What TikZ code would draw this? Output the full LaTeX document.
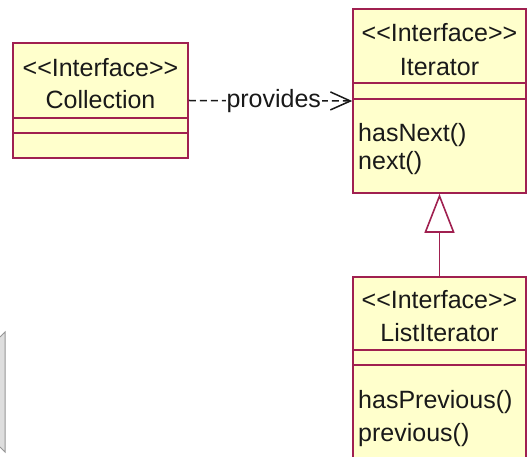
\documentclass[tikz,border=0pt]{standalone}
\usepackage{fontspec}
\setmainfont[Ligatures=NoCommon]{Liberation Sans}
\usetikzlibrary{arrows.meta}
\definecolor{umlline}{RGB}{160,32,80}
\definecolor{umlfill}{RGB}{255,255,204}
\definecolor{edgegrey}{RGB}{150,150,150}
\definecolor{edgefill}{RGB}{222,222,222}
\newcommand{\stereo}{<{}<Interface>{}>}
\begin{document}
\begin{tikzpicture}[x=1pt,y=-1pt,
  umlbox/.style={draw=umlline, fill=umlfill, line width=1.6pt, inner sep=0pt},
  divider/.style={draw=umlline, line width=1.6pt},
  txt/.style={inner sep=0pt, font=\fontsize{25}{28}\selectfont, text=black!90},
  meth/.style={txt, anchor=west},
  lbl/.style={inner sep=1pt, fill=white, font=\fontsize{25}{28}\selectfont, text=black!90}
]
\useasboundingbox (0,0) rectangle (531,457);
\clip (0,0) rectangle (531,457);
% grey edge at the left
\fill[edgefill] (0,337) -- (5,332) -- (5,452) -- (0,447) -- cycle;
\draw[edgegrey, line width=1pt] (0,337) -- (5,332) -- (5,452) -- (0,447);

% Collection
\node[umlbox, minimum width=175pt, minimum height=115pt] (coll) at (100.5,100.5) {};
\draw[divider] (13,118) -- (188,118);
\draw[divider] (13,133) -- (188,133);
\node[txt] (collst) at (100.5,68) {\stereo};
\node[txt] (collname) at (100.5,100) {Collection};

% Iterator
\node[umlbox, minimum width=173pt, minimum height=184pt] (iter) at (439.5,101) {};
\draw[divider] (353,83) -- (526,83);
\draw[divider] (353,99) -- (526,99);
\node[txt] (iterst) at (439.5,33) {\stereo};
\node[txt] (itername) at (439.5,67) {Iterator};
\node[meth] (m1) at (358,135) {hasNext()};
\node[meth] (m2) at (358,163) {next()};

% ListIterator
\node[umlbox, minimum width=173pt, minimum height=200pt, anchor=north] (list) at (439.5,276) {};
\draw[divider] (353,350) -- (526,350);
\draw[divider] (353,365) -- (526,365);
\node[txt] (listst) at (439.5,300) {\stereo};
\node[txt] (listname) at (439.5,333) {ListIterator};
\node[meth] (m3) at (358,402) {hasPrevious()};
\node[meth] (m4) at (358,435) {previous()};

% connectors
\draw[black!90, line width=1.5pt, dash pattern=on 7pt off 4pt,
      -{Straight Barb[length=20pt,width=18pt,line width=1.5pt]}]
  (coll.east) -- node[lbl, pos=0.52] (prov) {provides} (iter.west);
\draw[umlline, line width=1.8pt, -{Triangle[open,length=39pt,width=30pt,fill=white,line width=1.6pt]}]
  (list.north) -- (iter.south);
\end{tikzpicture}
\end{document}
